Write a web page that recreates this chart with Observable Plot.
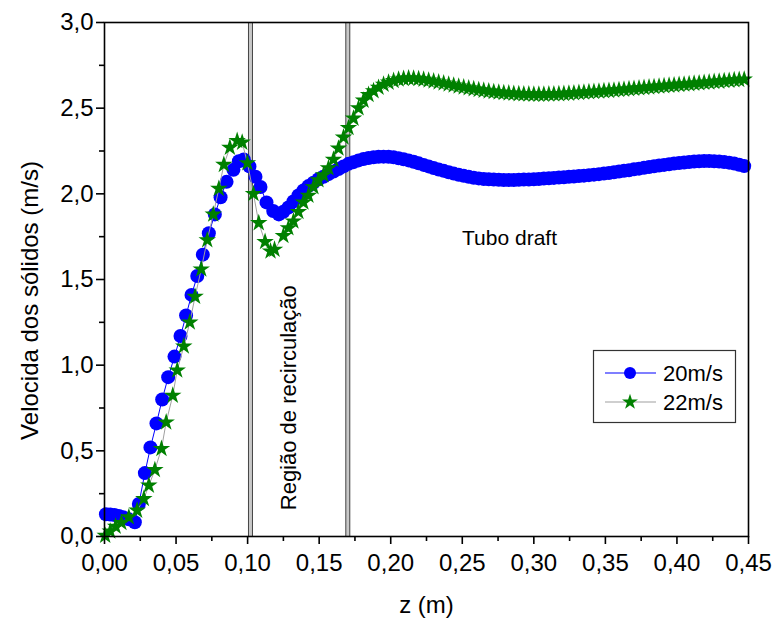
<!DOCTYPE html>
<html>
<head>
<meta charset="utf-8">
<script src="https://cdn.jsdelivr.net/npm/d3@7"></script>
<script src="https://cdn.jsdelivr.net/npm/@observablehq/plot@0.6"></script>
<style>
  html, body { margin: 0; padding: 0; background: #fff; }
  svg { display: block; }
</style>
</head>
<body>
<div id="chart"></div>
<script>
// ---- data ----
const seriesNames = ["20m/s", "22m/s"];

const zEarlyBlue = [0.001,0.004,0.007,0.010,0.013,0.017,0.0212,0.024,0.0282,0.0321,0.0363,0.0403,0.0445,0.0489,0.0531,0.0570,0.0608,0.0648,0.0687,0.0729,0.0771,0.0811,0.0853,0.0901,0.0939,0.0973,0.1013,0.1055,0.1090,0.1132,0.1179,0.1218];
const vEarlyBlue = [0.13,0.128,0.125,0.12,0.113,0.10,0.083,0.19,0.37,0.52,0.66,0.80,0.93,1.05,1.17,1.29,1.41,1.52,1.645,1.77,1.88,1.98,2.07,2.14,2.19,2.20,2.16,2.10,2.04,1.95,1.90,1.88];

const zEarlyGreen = [0.0005,0.004,0.0078,0.0118,0.017,0.0228,0.0275,0.031,0.0352,0.0398,0.0431,0.0477,0.0508,0.0554,0.0596,0.0633,0.0676,0.0718,0.0760,0.0799,0.0834,0.0876,0.0927,0.0962,0.0999,0.1041,0.1078,0.1122,0.1160,0.1188];
const vEarlyGreen = [0.005,0.03,0.058,0.08,0.113,0.152,0.22,0.298,0.389,0.512,0.667,0.823,0.97,1.11,1.25,1.40,1.56,1.73,1.88,2.03,2.17,2.27,2.31,2.30,2.18,2.00,1.83,1.72,1.665,1.675];

const zLate = [0.1250,0.1285,0.1320,0.1355,0.1390,0.1425,0.1460,0.1495,0.1530,0.1565,0.1600,0.1635,0.1670,0.1705,0.1740,0.1775,0.1810,0.1845,0.1880,0.1915,0.1950,0.1985,0.2020,0.2055,0.2090,0.2125,0.2160,0.2195,0.2230,0.2265,0.2300,0.2335,0.2370,0.2405,0.2440,0.2475,0.2510,0.2545,0.2580,0.2615,0.2650,0.2685,0.2720,0.2755,0.2790,0.2825,0.2860,0.2895,0.2930,0.2965,0.3000,0.3035,0.3070,0.3105,0.3140,0.3175,0.3210,0.3245,0.3280,0.3315,0.3350,0.3385,0.3420,0.3455,0.3490,0.3525,0.3560,0.3595,0.3630,0.3665,0.3700,0.3735,0.3770,0.3805,0.3840,0.3875,0.3910,0.3945,0.3980,0.4015,0.4050,0.4085,0.4120,0.4155,0.4190,0.4225,0.4260,0.4295,0.4330,0.4365,0.4400,0.4435,0.4470];

const vLateBlue = [1.895,1.92,1.955,1.99,2.02,2.045,2.065,2.085,2.10,2.115,2.13,2.145,2.16,2.175,2.185,2.195,2.203,2.209,2.213,2.216,2.217,2.216,2.213,2.208,2.202,2.195,2.187,2.178,2.169,2.16,2.151,2.142,2.134,2.126,2.118,2.111,2.105,2.099,2.094,2.09,2.087,2.085,2.083,2.082,2.081,2.081,2.081,2.082,2.083,2.084,2.085,2.087,2.089,2.091,2.093,2.095,2.097,2.099,2.101,2.104,2.106,2.109,2.112,2.115,2.118,2.122,2.126,2.13,2.134,2.138,2.143,2.147,2.152,2.156,2.161,2.165,2.169,2.173,2.177,2.18,2.183,2.186,2.188,2.19,2.191,2.191,2.19,2.189,2.186,2.182,2.177,2.17,2.162];

const vLateGreen = [1.755,1.80,1.84,1.895,1.95,1.99,2.04,2.08,2.11,2.15,2.20,2.265,2.33,2.385,2.44,2.50,2.545,2.578,2.60,2.62,2.638,2.65,2.66,2.668,2.672,2.675,2.674,2.671,2.667,2.662,2.657,2.651,2.645,2.639,2.633,2.627,2.622,2.617,2.612,2.607,2.603,2.599,2.595,2.592,2.589,2.587,2.585,2.583,2.582,2.581,2.580,2.580,2.580,2.581,2.582,2.583,2.584,2.586,2.588,2.590,2.592,2.594,2.596,2.598,2.600,2.602,2.604,2.607,2.609,2.612,2.614,2.617,2.619,2.622,2.624,2.627,2.629,2.632,2.634,2.637,2.639,2.641,2.644,2.646,2.649,2.651,2.654,2.656,2.659,2.661,2.664,2.666,2.668];

const regionBounds = [0.102, 0.170];
const annotLabels = ["Região de recirculação", "Tubo draft"];
const annotZ = [0.1286, 0.283];
const annotV = [0.81, 1.74];

const xMajor = [0,0.05,0.10,0.15,0.20,0.25,0.30,0.35,0.40,0.45];
const xMinor = [0.025,0.075,0.125,0.175,0.225,0.275,0.325,0.375,0.425];
const yMajor = [0,0.5,1.0,1.5,2.0,2.5,3.0];
const yMinor = [0.25,0.75,1.25,1.75,2.25,2.75];
const xLabel = "z (m)";
const yLabel = "Velocida dos sólidos (m/s)";

// ---- build tables ----
const blue = zEarlyBlue.map((z, i) => ({z, v: vEarlyBlue[i]}))
  .concat(zLate.map((z, i) => ({z, v: vLateBlue[i]})));
const green = zEarlyGreen.map((z, i) => ({z, v: vEarlyGreen[i]}))
  .concat(zLate.map((z, i) => ({z, v: vLateGreen[i]})));

const BLUE = "#0000ff", GREEN = "#008000", GRAY = "#a0a0a0";
const FONT = "'Liberation Sans', Arial, Helvetica, sans-serif";
const fmtX = d => d.toFixed(2).replace(".", ",");
const fmtY = d => d.toFixed(1).replace(".", ",");
const R_CIRCLE = 7, R_STAR = 5.5;

const chart = Plot.plot({
  width: 772,
  height: 628,
  marginLeft: 104,
  marginRight: 24,
  marginTop: 22,
  marginBottom: 92,
  style: {fontFamily: FONT, background: "#fff", color: "#000"},
  x: {domain: [0, 0.45]},
  y: {domain: [0, 3]},
  marks: [
    // region dividers
    Plot.ruleX(regionBounds, {stroke: "#444", strokeWidth: 5}),
    Plot.ruleX(regionBounds, {stroke: "#c8c8c8", strokeWidth: 3}),
    // series
    Plot.line(blue, {x: "z", y: "v", stroke: BLUE, strokeWidth: 1}),
    Plot.dot(blue, {x: "z", y: "v", r: R_CIRCLE, fill: BLUE, stroke: "none"}),
    Plot.line(green, {x: "z", y: "v", stroke: GRAY, strokeWidth: 1}),
    Plot.dot(green, {x: "z", y: "v", symbol: "star", r: R_STAR, fill: GREEN, stroke: "none"}),
    // annotations
    Plot.text([0], {x: annotZ[0], y: annotV[0], text: () => annotLabels[0], rotate: -90, fontSize: 22, fill: "#000"}),
    Plot.text([1], {x: annotZ[1], y: annotV[1], text: () => annotLabels[1], fontSize: 21, fill: "#000"}),
    // axes
    Plot.axisX({ticks: xMajor, tickFormat: fmtX, tickSize: 8, tickPadding: 9, fontSize: 24, strokeWidth: 1.6, label: null}),
    Plot.axisX({ticks: xMinor, tickFormat: () => "", tickSize: 5, strokeWidth: 1.6, label: null}),
    Plot.axisY({ticks: yMajor, tickFormat: fmtY, tickSize: 8, tickPadding: 3, fontSize: 24, strokeWidth: 1.6, label: null}),
    Plot.axisY({ticks: yMinor, tickFormat: () => "", tickSize: 5, strokeWidth: 1.6, label: null}),
    Plot.frame({stroke: "#000", strokeWidth: 1.6}),
    // axis titles
    Plot.text([xLabel], {frameAnchor: "bottom", dy: 76, fontSize: 24, fill: "#000"}),
    Plot.text([yLabel], {frameAnchor: "left", dx: -74, dy: 21, rotate: -90, textAnchor: "middle", lineAnchor: "middle", fontSize: 24, fill: "#000"})
  ]
});

// ---- legend box inside plot area ----
const svg = d3.select(chart);
const lg = svg.append("g").attr("font-family", FONT).attr("text-anchor", "start");
lg.append("rect").attr("x", 593.5).attr("y", 350.5).attr("width", 142).attr("height", 72)
  .attr("fill", "#fff").attr("stroke", "#333").attr("stroke-width", 1.2);
const rows = [
  {name: seriesNames[0], line: BLUE, sym: d3.symbolCircle, size: Math.PI * 6 * 6, fill: BLUE, y: 373},
  {name: seriesNames[1], line: GRAY, sym: d3.symbolStar, size: Math.PI * 5 * 5, fill: GREEN, y: 402}
];
rows.forEach(r => {
  lg.append("line").attr("x1", 605).attr("x2", 656).attr("y1", r.y).attr("y2", r.y)
    .attr("stroke", r.line).attr("stroke-width", 1.2);
  lg.append("path").attr("d", d3.symbol(r.sym, r.size)()).attr("transform", `translate(630,${r.y})`)
    .attr("fill", r.fill);
  lg.append("text").attr("x", 663).attr("y", r.y).attr("dy", "0.35em").attr("font-size", 22)
    .attr("text-anchor", "start").attr("fill", "#000").text(r.name);
});

document.getElementById("chart").appendChild(chart);
</script>
</body>
</html>
